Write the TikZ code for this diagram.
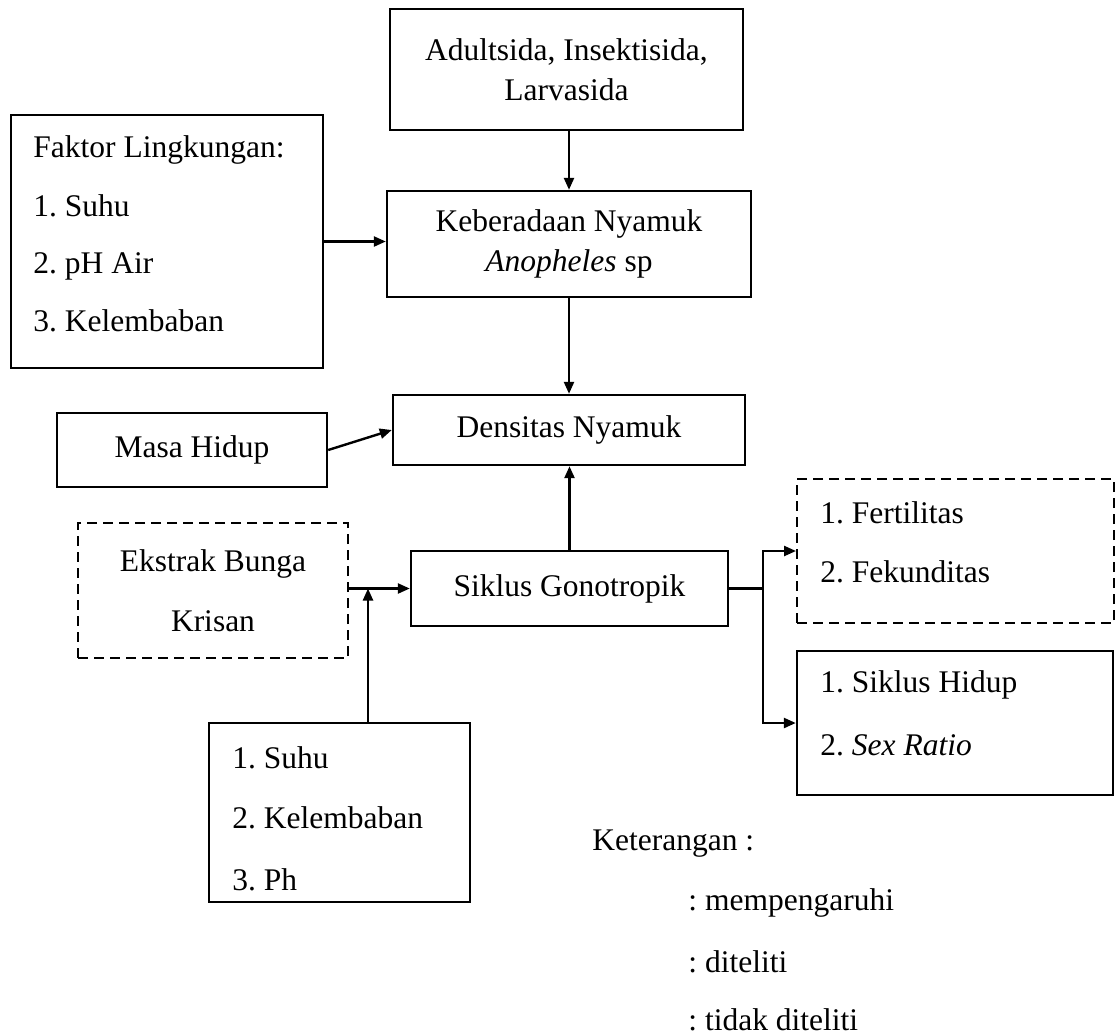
\documentclass[tikz,border=0pt]{standalone}
\usepackage{fontspec}
\setmainfont{Liberation Serif}
\usetikzlibrary{arrows.meta}
\begin{document}
\frenchspacing
\begin{tikzpicture}[x=0.5pt,y=-0.5pt,
  every node/.style={font=\fontsize{15.75}{20}\selectfont, inner sep=0pt},
  box/.style={draw, line width=1.2pt, align=center},
  dbox/.style={box, line width=1pt, dash pattern=on 5pt off 3pt},
  arr/.style={line width=1.2pt, -{Triangle[length=6pt,width=5pt]}},
  ln/.style={line width=1.2pt},
  item/.style={anchor=base west}]
\useasboundingbox (0,0) rectangle (1118,1035);

% boxes
\node[box, minimum width=176.5pt, minimum height=60.5pt] (adult) at (566.5,69.5) {Adultsida, Insektisida,\\Larvasida};
\node[box, minimum width=182pt, minimum height=53pt] (keb) at (569,244) {Keberadaan Nyamuk\\\textit{Anopheles} sp};
\node[box, minimum width=156pt, minimum height=126.5pt] (faktor) at (167,241.5) {};
\node[box, minimum width=176pt, minimum height=35pt] (dens) at (569,430) {Densitas Nyamuk};
\node[box, minimum width=135pt, minimum height=37pt] (masa) at (192,450) {Masa Hidup};
\node[dbox, minimum width=135pt, minimum height=67.5pt] (ekstrak) at (213,590.5) {Ekstrak Bunga\\[10pt]Krisan};
\node[box, minimum width=158.5pt, minimum height=37.5pt] (siklus) at (569.5,588.5) {Siklus Gonotropik};
\node[box, minimum width=130.5pt, minimum height=89.5pt] (suhu) at (339.5,812.5) {};
\node[dbox, minimum width=158.5pt, minimum height=72pt] (fert) at (955.5,551) {};
\node[box, minimum width=158pt, minimum height=72pt] (hidup) at (955,723) {};

% list texts
\node[item] (f0) at (33,157) {Faktor Lingkungan:};
\node[item] (f1) at (33,216) {1. Suhu};
\node[item] (f2) at (33,273) {2. pH Air};
\node[item] (f3) at (33,331) {3. Kelembaban};

\node[item] (s1) at (232,768) {1. Suhu};
\node[item] (s2) at (232,828) {2. Kelembaban};
\node[item] (s3) at (232,890) {3. Ph};

\node[item] (r1) at (820,523) {1. Fertilitas};
\node[item] (r2) at (820,582) {2. Fekunditas};

\node[item] (h1) at (820,692) {1. Siklus Hidup};
\node[item] (h2) at (820,755) {2. \textit{Sex Ratio}};

% legend
\node[item] (k0) at (592,850) {Keterangan :};
\node[item] (k1) at (688,910) {: mempengaruhi};
\node[item] (k2) at (688,972) {: diteliti};
\node[item] (k3) at (688,1030) {: tidak diteliti};

% connectors
\draw[arr] (adult.south -| keb.north) -- (keb.north);
\draw[arr] (faktor.east) -- (faktor.east -| keb.west);
\draw[arr] (keb.south) -- (dens.north);
\draw[arr] (masa.east) -- (dens.west);
\draw[arr] (siklus.north) -- (siklus.north |- dens.south);
\draw[arr] (ekstrak.east |- siklus.west) -- (siklus.west);
\coordinate (j) at (368,588.5);
\draw[arr] (j |- suhu.north) -- (j);
\coordinate (fk) at (763,588.5);
\draw[ln] (siklus.east) -- (fk);
\draw[arr] (fk) |- (fert.west);
\draw[arr] (fk) |- (hidup.west);
\end{tikzpicture}
\end{document}
